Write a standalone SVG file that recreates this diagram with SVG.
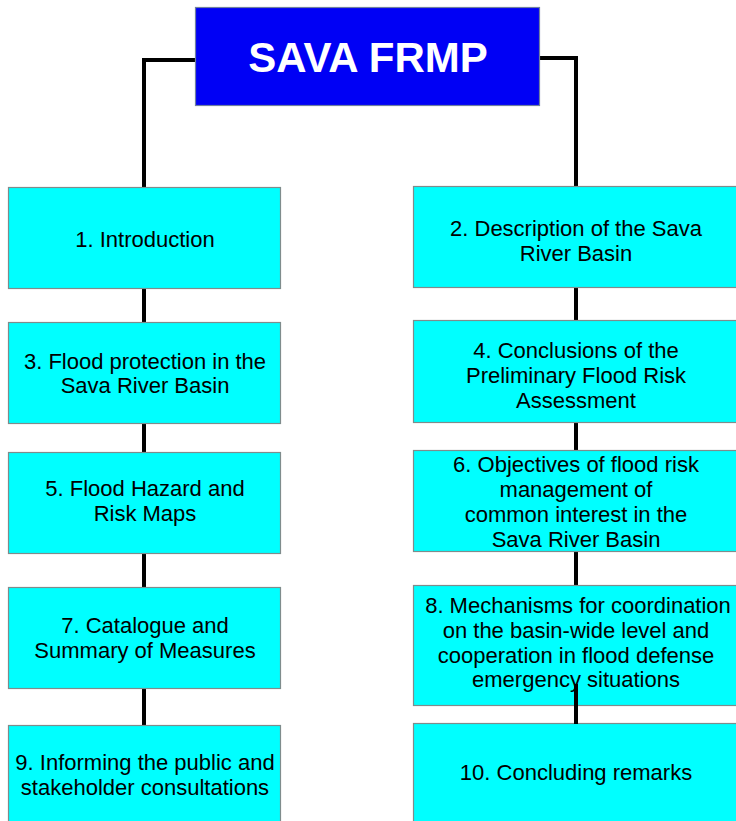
<svg xmlns="http://www.w3.org/2000/svg" width="736" height="821" viewBox="0 0 736 821">
<style>
.box{fill:#00FFFF;stroke:#7f8c8c;stroke-width:1.2}
.top{fill:#0000F5;stroke:#6f7fa0;stroke-width:1.2}
.t{font-family:"Liberation Sans",Arial,sans-serif;font-size:22px;fill:#000;text-anchor:middle}
.tt{font-family:"Liberation Sans",Arial,sans-serif;font-size:42px;font-weight:bold;fill:#fff;text-anchor:middle}
.c{fill:none;stroke:#000;stroke-width:4}
</style>
<rect width="736" height="821" fill="#fff"/>
<g id="connectors">
<polyline class="c" points="196,60 144,60 144,188"/>
<polyline class="c" points="538,58 576,58 576,187"/>
<line class="c" x1="144" y1="288" x2="144" y2="323"/>
<line class="c" x1="144" y1="423" x2="144" y2="453"/>
<line class="c" x1="144" y1="553" x2="144" y2="588"/>
<line class="c" x1="144" y1="688" x2="144" y2="726"/>
<line class="c" x1="576" y1="287" x2="576" y2="321"/>
<line class="c" x1="576" y1="422" x2="576" y2="450"/>
<line class="c" x1="576" y1="551" x2="576" y2="585"/>
</g>
<g id="n0"><rect class="top" x="195.5" y="7.5" width="344" height="98"/><text class="tt" x="368" y="72">SAVA FRMP</text></g>
<g id="n1"><rect class="box" x="8.5" y="187.5" width="272" height="101"/><text class="t" x="145" y="247">1. Introduction</text></g>
<g id="n3"><rect class="box" x="8.5" y="322.5" width="272" height="101"/><text class="t" x="145" y="369">3. Flood protection in the</text><text class="t" x="145" y="393">Sava River Basin</text></g>
<g id="n5"><rect class="box" x="8.5" y="452.5" width="272" height="101"/><text class="t" x="145" y="496">5. Flood Hazard and</text><text class="t" x="145" y="521">Risk Maps</text></g>
<g id="n7"><rect class="box" x="8.5" y="587.5" width="272" height="101"/><text class="t" x="145" y="633">7. Catalogue and</text><text class="t" x="145" y="658">Summary of Measures</text></g>
<g id="n9"><rect class="box" x="8.5" y="725.5" width="272" height="110"/><text class="t" x="145" y="770">9. Informing the public and</text><text class="t" x="145" y="795">stakeholder consultations</text></g>
<g id="n2"><rect class="box" x="413.5" y="186.5" width="330" height="101"/><text class="t" x="576" y="236">2. Description of the Sava</text><text class="t" x="576" y="261">River Basin</text></g>
<g id="n4"><rect class="box" x="413.5" y="320.5" width="330" height="102"/><text class="t" x="576" y="358">4. Conclusions of the</text><text class="t" x="576" y="383">Preliminary Flood Risk</text><text class="t" x="576" y="408">Assessment</text></g>
<g id="n6"><rect class="box" x="413.5" y="450.5" width="330" height="101"/><text class="t" x="576" y="472">6. Objectives of flood risk</text><text class="t" x="576" y="497">management of</text><text class="t" x="576" y="522">common interest in the</text><text class="t" x="576" y="547">Sava River Basin</text></g>
<g id="n8"><rect class="box" x="413.5" y="585.5" width="330" height="120"/><text class="t" x="578" y="613">8. Mechanisms for coordination</text><text class="t" x="576" y="638">on the basin-wide level and</text><text class="t" x="576" y="663">cooperation in flood defense</text><text class="t" x="576" y="687">emergency situations</text></g>
<g id="n10"><rect class="box" x="413.5" y="723.5" width="330" height="110"/><text class="t" x="576" y="780">10. Concluding remarks</text></g>
<g id="connectors-over"><line class="c" x1="576" y1="684" x2="576" y2="724"/></g>
</svg>
